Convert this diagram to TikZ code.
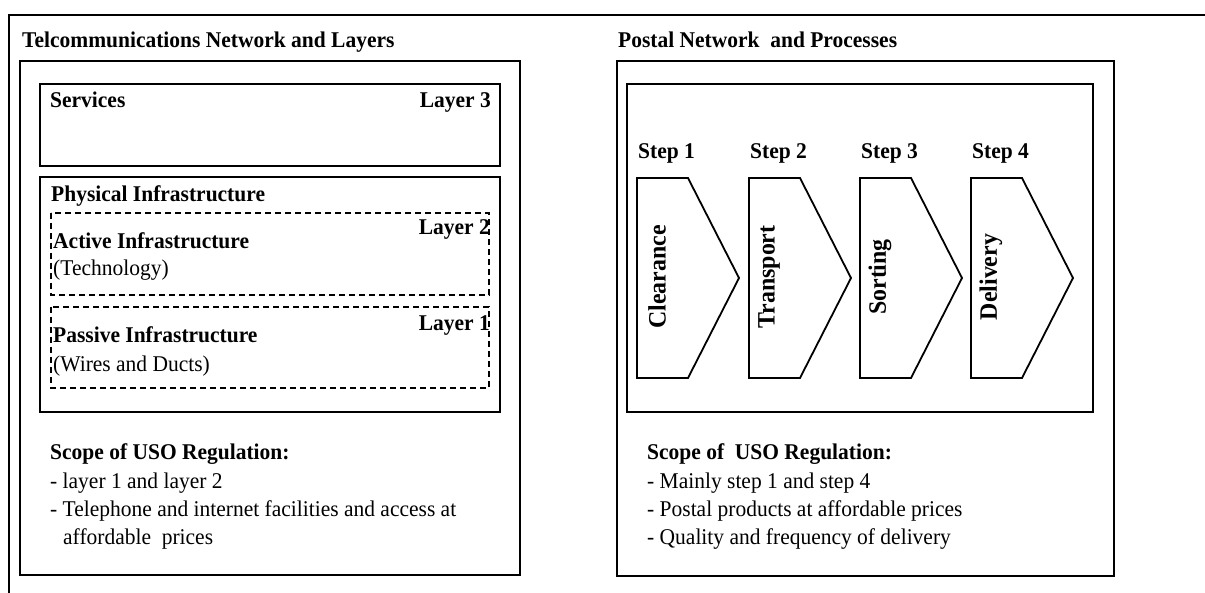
\documentclass[tikz,border=0pt]{standalone}
\usepackage{fontspec}
\setmainfont[FakeStretch=0.955]{Liberation Serif}
\begin{document}
\begin{tikzpicture}[x=1pt,y=-1pt,
  frame/.style={draw=black,line width=1.8pt},
  dashbox/.style={draw=black,line width=1.6pt,dash pattern=on 6pt off 4pt},
  chevron/.style={draw=black,line width=1.8pt,line join=miter},
  txt/.style={inner sep=0pt,anchor=base west,font=\fontsize{22.5}{27}\selectfont},
  btxt/.style={txt,font=\fontsize{22.5}{27}\selectfont\bfseries},
  rtxt/.style={inner sep=0pt,anchor=base east,font=\fontsize{22.5}{27}\selectfont\bfseries},
  vlabel/.style={inner sep=0pt,rotate=90,anchor=center,font=\fontsize{25}{29}\selectfont\bfseries}]
\useasboundingbox (0,0) rectangle (1205,593);
\fill[white] (0,0) rectangle (1205,593);

% outer frame (only top and left edges fall inside the page)
\draw[frame] (1205,15) -- (9,15) -- (9,593);

% ---------- telecommunications panel ----------
\node[btxt] (ttitle) at (22,48) {Telcommunications Network and Layers};
\draw[frame] (20,61) rectangle (520,575);

\draw[frame] (40,84) rectangle (500,166);
\node[btxt] (services) at (50,108) {Services};
\node[rtxt] (layer3) at (491,108) {Layer 3};

\draw[frame] (40,177) rectangle (500,412);
\node[btxt] (physical) at (51,202) {Physical Infrastructure};

\draw[dashbox] (51,213) rectangle (489,295);
\node[rtxt] (layer2) at (490,235) {Layer 2};
\node[btxt] (active) at (53,249) {Active Infrastructure};
\node[txt] (tech) at (53,276) {(Technology)};

\draw[dashbox] (51,307) rectangle (489,388);
\node[rtxt] (layer1) at (490,331) {Layer 1};
\node[btxt] (passive) at (53,343) {Passive Infrastructure};
\node[txt] (wires) at (53,372) {(Wires and Ducts)};

\node[btxt] (tscope) at (50,459) {Scope of USO Regulation:};
\node[txt] (tline1) at (50,488) {- layer 1 and layer 2};
\node[txt] (tline2) at (50,516) {- Telephone and internet facilities and access at};
\node[txt] (tline3) at (63,544) {affordable\ \ prices};

% ---------- postal panel ----------
\node[btxt] (ptitle) at (618,48) {Postal Network\ \ and Processes};
\draw[frame] (617,61) rectangle (1114,576);
\draw[frame] (627,84) rectangle (1093,412);

\foreach \x/\s/\lab in {637/1/Clearance, 749/2/Transport,
                        860/3/Sorting, 971/4/Delivery}{
  \node[btxt] (step\s) at (\x+1,159) {Step \s};
  \draw[chevron] (\x,178) -- (\x+51,178) -- (\x+102,278)
                 -- (\x+51,378) -- (\x,378) -- cycle;
  \node[vlabel] (proc\s) at (\x+20,277) {\lab};
}

\node[btxt] (pscope) at (647,459) {Scope of\ \ USO Regulation:};
\node[txt] (pline1) at (647,488) {- Mainly step 1 and step 4};
\node[txt] (pline2) at (647,516) {- Postal products at affordable prices};
\node[txt] (pline3) at (647,544) {- Quality and frequency of delivery};
\end{tikzpicture}
\end{document}
